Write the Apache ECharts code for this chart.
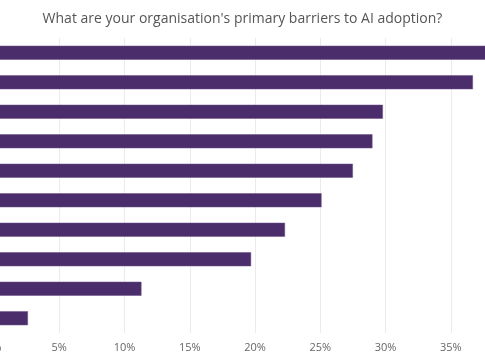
<!DOCTYPE html>
<html>
<head>
<meta charset="utf-8">
<script src="https://cdn.jsdelivr.net/npm/echarts@6/dist/echarts.min.js"></script>
<style>
html,body{margin:0;padding:0;background:#fff;}
#chart{width:485px;height:360px;}
</style>
</head>
<body>
<div id="chart"></div>
<script>
const title = "What are your organisation's primary barriers to AI adoption?";
const categories = [
  "Barrier 1", "Barrier 2", "Barrier 3", "Barrier 4", "Barrier 5",
  "Barrier 6", "Barrier 7", "Barrier 8", "Barrier 9", "Barrier 10"
];
const values = [38.0, 36.7, 29.8, 29.0, 27.5, 25.1, 22.3, 19.7, 11.3, 2.6];
const xTicks = { min: 0, max: 40, interval: 5 };

const chart = echarts.init(document.getElementById('chart'), null, { renderer: 'canvas' });
chart.setOption({
  animation: false,
  backgroundColor: '#ffffff',
  title: {
    text: title,
    left: 'center',
    top: 7,
    textStyle: { fontFamily: 'Open Sans', fontSize: 14, fontWeight: 'normal', color: '#555555' }
  },
  grid: {
    left: -6, top: 38, width: 522, height: 295,
    containLabel: false, outerBoundsMode: 'none'
  },
  xAxis: {
    type: 'value',
    min: xTicks.min, max: xTicks.max, interval: xTicks.interval,
    axisLine: { show: false },
    axisTick: { show: false },
    splitLine: { show: true, lineStyle: { color: '#ebebeb', width: 1 } },
    axisLabel: {
      formatter: '{value}%',
      fontFamily: 'Open Sans', fontSize: 11, color: '#666666', margin: 9
    }
  },
  yAxis: {
    type: 'category',
    data: categories,
    inverse: true,
    axisLine: { show: false },
    axisTick: { show: false },
    axisLabel: { show: true, fontFamily: 'Open Sans', fontSize: 11, color: '#666666' }
  },
  series: [{
    type: 'bar',
    data: values,
    barWidth: 14,
    itemStyle: { color: '#4b2d6b', borderColor: '#6a5088', borderWidth: 0.5 }
  }]
});
</script>
</body>
</html>
